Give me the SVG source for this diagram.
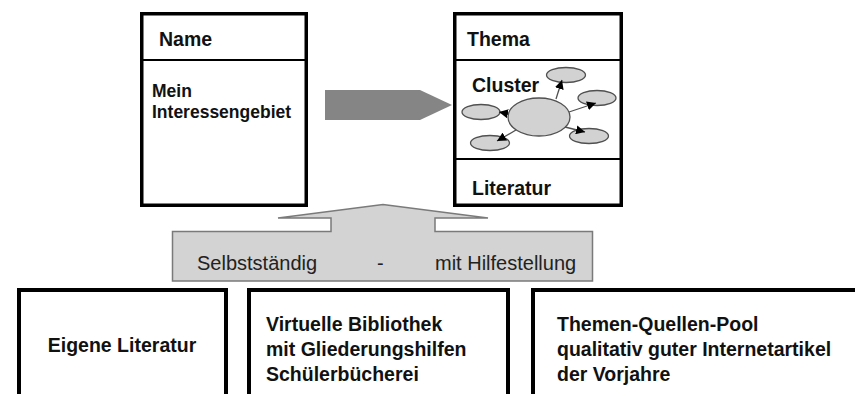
<svg xmlns="http://www.w3.org/2000/svg" width="855" height="394" viewBox="0 0 855 394">
  <style>
    text { font-family: "Liberation Sans", Arial, Helvetica, sans-serif; fill: #111; }
    .b { font-weight: bold; }
    .h { font-size: 19.5px; font-weight: bold; }
    .m { font-size: 17.5px; font-weight: bold; }
    .p { font-size: 20px; fill: #222; }
    .frame { fill: #fff; stroke: #000; stroke-width: 3.5; }
    .frame4 { fill: #fff; stroke: #000; stroke-width: 4; }
    .div { stroke: #000; stroke-width: 2; fill: none; }
    .bub { fill: #d2d2d2; stroke: #505050; stroke-width: 1.3; }
    .spoke { stroke: #505050; stroke-width: 1.3; fill: none; marker-end: url(#tip); }
  </style>
  <defs>
    <marker id="tip" viewBox="0 0 10 10" refX="10" refY="5" markerWidth="9" markerHeight="9" markerUnits="userSpaceOnUse" orient="auto">
      <path d="M0,0 L10,5 L0,10 z" fill="#000"/>
    </marker>
  </defs>
  <rect width="855" height="394" fill="#fff"/>

  <!-- left card: name and area of interest -->
  <g id="name-card">
    <rect class="frame" x="141.75" y="13.75" width="164.5" height="191.5"/>
    <line class="div" x1="142" y1="60" x2="306" y2="60"/>
    <text class="h" x="159" y="46">Name</text>
    <text class="m" x="152" y="97">Mein</text>
    <text class="m" x="152" y="118">Interessengebiet</text>
  </g>

  <!-- right card: topic, cluster, literature -->
  <g id="thema-card">
    <rect class="frame" x="454.75" y="13.75" width="166.5" height="191.5"/>
    <line class="div" x1="455" y1="60" x2="621" y2="60"/>
    <line class="div" x1="455" y1="159" x2="621" y2="159"/>
    <text class="h" x="467" y="46">Thema</text>
    <text class="h" x="472" y="92">Cluster</text>
    <text class="h" x="472" y="195">Literatur</text>
    <g id="cluster">
      <ellipse class="bub" cx="539" cy="117" rx="31" ry="19"/>
      <ellipse class="bub" cx="566" cy="75" rx="19.5" ry="7.5"/>
      <ellipse class="bub" cx="597" cy="98" rx="19" ry="7.5"/>
      <ellipse class="bub" cx="589" cy="136" rx="19.5" ry="7.5"/>
      <ellipse class="bub" cx="481" cy="112" rx="19" ry="7.5"/>
      <ellipse class="bub" cx="490" cy="143" rx="19.5" ry="7.5"/>
    </g>
  </g>

  <!-- support panel with upward arrow -->
  <g id="support-panel">
    <path d="M172.5,231.5 L331,231.5 L331,218 L278,218 L383,204.5 L488,218 L435,218 L435,231.5 L592.5,231.5 L592.5,281 L172.5,281 Z" fill="#d3d3d3" stroke="#7a7a7a" stroke-width="1.5" stroke-linejoin="miter"/>
    <text class="p" x="197" y="270">Selbstständig</text>
    <text class="p" x="377" y="270">-</text>
    <text class="p" x="435" y="270">mit Hilfestellung</text>
  </g>

  <!-- source boxes along the bottom -->
  <g id="eigene-literatur">
    <rect class="frame4" x="19" y="290" width="207" height="120"/>
    <text class="h" x="122" y="352" text-anchor="middle">Eigene Literatur</text>
  </g>
  <g id="virtuelle-bibliothek">
    <rect class="frame4" x="249" y="290" width="259" height="120"/>
    <text class="h" x="266" y="330.5">Virtuelle Bibliothek</text>
    <text class="h" x="266" y="356">mit Gliederungshilfen</text>
    <text class="h" x="266" y="381">Schülerbücherei</text>
  </g>
  <g id="quellen-pool">
    <rect class="frame4" x="533" y="290" width="340" height="120"/>
    <text class="h" x="557" y="330.5">Themen-Quellen-Pool</text>
    <text class="h" x="557" y="356">qualitativ guter Internetartikel</text>
    <text class="h" x="557" y="381">der Vorjahre</text>
  </g>

  <!-- connectors -->
  <g id="connectors">
    <path d="M325,90 L420,90 L452,105 L420,120 L325,120 Z" fill="#858585"/>
    <line class="spoke" x1="556" y1="99" x2="562" y2="80"/>
    <line class="spoke" x1="569" y1="112" x2="596" y2="103"/>
    <line class="spoke" x1="565" y1="127" x2="585" y2="132"/>
    <line class="spoke" x1="509" y1="114" x2="499" y2="112"/>
    <line class="spoke" x1="516" y1="130" x2="497" y2="141"/>
  </g>
</svg>
